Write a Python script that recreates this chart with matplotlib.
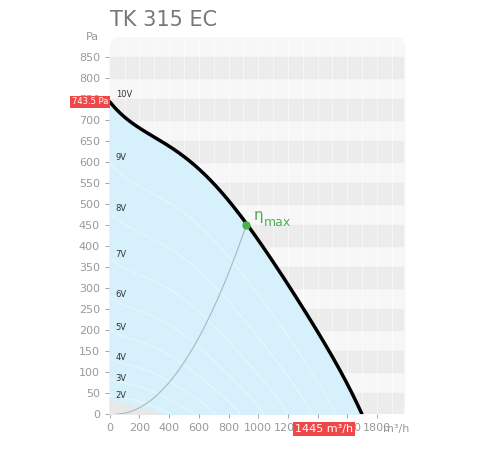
import matplotlib.pyplot as plt
import numpy as np
from matplotlib.patches import FancyBboxPatch

# main fan curve (m3/h, Pa)
flow = [0, 120, 342, 544, 700, 920, 1215, 1396, 1550, 1698]
pressure = [743.5, 700, 650, 600, 550, 450, 300, 200, 100, 0]
eta_x, eta_y = 920, 450
volt_labels = ["10V", "9V", "8V", "7V", "6V", "5V", "4V", "3V", "2V"]
volt_y = [760, 610, 490, 380, 285, 205, 135, 85, 45]
yticks = list(range(0, 851, 50))
xticks = list(range(0, 1801, 200))

fig = plt.figure(figsize=(5, 4.5), dpi=100)
ax = fig.add_axes([0.218, 0.08, 0.594, 0.838])
ax.set_xlim(-5, 1995)
ax.set_ylim(0, 898)
for s in ax.spines.values():
    s.set_visible(False)

# background bands
bg = FancyBboxPatch((0, 0), 1990, 898, boxstyle="round,pad=0,rounding_size=60",
                    mutation_aspect=0.5, fc="#f7f7f7", ec="none", zorder=0)
ax.add_patch(bg)
for i, y0 in enumerate(range(0, 850, 50)):
    if i % 2 == 0:
        ax.axhspan(y0, y0 + 50, xmin=0.005, xmax=0.99, color="#ececec", zorder=0.5)
for x in range(100, 2000, 100):
    ax.axvline(x, color="white", lw=0.8, alpha=0.5, zorder=0.6)

# smooth curve: polynomial fit through the read points
fx = np.array(flow, float)
fy = np.array(pressure, float)
coef = np.polyfit(fx, fy, 5)
cx = np.linspace(fx[0], fx[-1], 300)
cy = np.polyval(coef, cx)
cy += (fy[0] - cy[0]) * (1 - cx / fx[-1]) + (fy[-1] - cy[-1]) * (cx / fx[-1])

ax.fill_between(cx, 0, cy, color="#d6f0fc", zorder=1)
# faint voltage curves
for v in volt_y[1:]:
    s = v / 760
    ax.plot(cx * s ** 0.5, cy * s, color="white", lw=0.8, alpha=0.45, zorder=1.5)
# bottom-left gray patch
ax.fill_between([0, 100, 250, 350], [30, 25, 10, 0], 0, color="#e8e8e8", zorder=1.6)

# system curve
sx = np.linspace(40, eta_x, 100)
sy = eta_y * ((sx - 40) / (eta_x - 40)) ** 2
ax.plot(sx, sy, color="#a9b8c2", lw=0.8, zorder=2)

ax.plot(cx, cy, color="black", lw=2.5, zorder=3, solid_capstyle="round")
ax.plot(eta_x, eta_y, "o", color="#4caf50", ms=5, zorder=4)
ax.text(eta_x + 50, eta_y + 5, "η", color="#4caf50", fontsize=11, va="bottom")
ax.text(eta_x + 120, eta_y + 5, "max", color="#4caf50", fontsize=9, va="center")

for lab, y in zip(volt_labels, volt_y):
    ax.text(40, y, lab, fontsize=6, color="#333333", va="center")

ax.set_yticks(yticks)
ax.set_xticks(xticks)
ax.tick_params(colors="#999999", labelsize=8, length=3, width=0.6)
ax.text(-70, 898, "Pa", color="#999999", fontsize=8, ha="right", va="center")
ax.text(1930, -35, "m³/h", color="#999999", fontsize=8, ha="center", va="center")
ax.text(-10, 743.5, "743.5 Pa", fontsize=6, color="white", ha="right", va="center",
        bbox=dict(fc="#f04848", ec="none", pad=1))
ax.text(1445, -35, "1445 m³/h", fontsize=8, color="white", ha="center", va="center",
        zorder=5, clip_on=False,
        bbox=dict(fc="#f04848", ec="none", pad=1.5))

fig.text(0.22, 0.955, "TK 315 EC", fontsize=15, color="#777777", va="center")
fig.savefig("out.png", dpi=100)
